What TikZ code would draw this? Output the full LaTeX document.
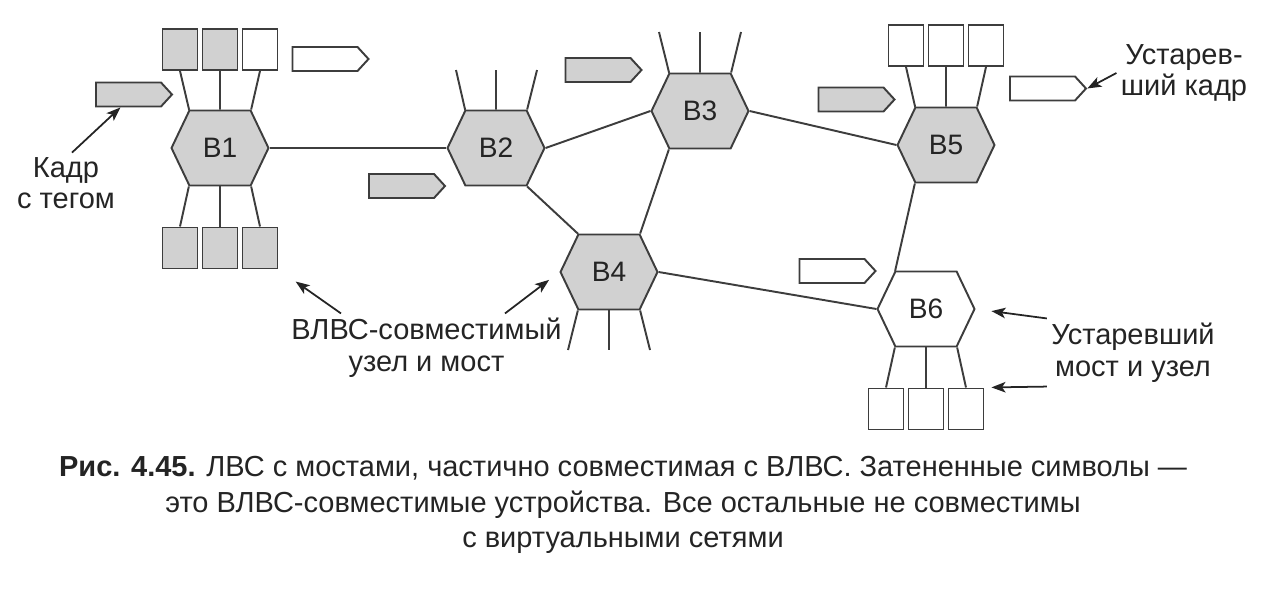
\documentclass[tikz,border=0pt]{standalone}
\usepackage{fontspec}
\setmainfont{Liberation Sans}
\usepackage{tikz}
\usetikzlibrary{arrows,arrows.meta}
\usetikzlibrary{shapes.symbols}
\definecolor{shade}{gray}{0.82}
\definecolor{ink}{gray}{0.24}
\definecolor{type}{gray}{0.14}
\newcommand{\lblfont}{\fontsize{16.5}{18}\selectfont}

\begin{document}
\begin{tikzpicture}[line width=1.1pt,draw=ink,text=type,
  hexvlan/.style={signal,signal to=east and west,signal pointer angle=129,draw=ink,fill=shade,
    minimum width=1.94cm,minimum height=1.5cm,inner sep=0pt,font=\fontsize{16}{18}\selectfont},
  hexold/.style={hexvlan,fill=white},
  stnvlan/.style={rectangle,draw=ink,fill=shade,minimum width=0.7cm,minimum height=0.82cm,inner sep=0pt},
  stnold/.style={stnvlan,fill=white},
  framevlan/.style={signal,signal to=east,signal pointer angle=95,draw=ink,fill=shade,
    minimum width=1.52cm,minimum height=0.48cm,inner sep=0pt},
  frameold/.style={framevlan,fill=white},
  note/.style={align=center,font=\lblfont,inner sep=2pt},
  pointer/.style={-{Stealth[length=8pt,width=6pt,inset=2pt]},line width=1pt,draw=type}]
\useasboundingbox (0,0) rectangle (25.6,-11.86);
% bridges and their stations
\draw (4.40,-2.96) node[hexvlan] (B1) {B1}
  +(-0.8,1.97) node[stnvlan] (b11) {}
  +(0,1.97) node[stnvlan] (b12) {}
  +(0.8,1.97) node[stnold] (b13) {}
  +(-0.8,-2.0) node[stnvlan] (b14) {}
  +(0,-2.0) node[stnvlan] (b15) {}
  +(0.8,-2.0) node[stnvlan] (b16) {};
\draw (9.92,-2.96) node[hexvlan] (B2) {B2}
  +(-0.8,1.56) coordinate (B2u1)
  +(0,1.56) coordinate (B2u2)
  +(0.82,1.56) coordinate (B2u3);
\draw (14.00,-2.22) node[hexvlan] (B3) {B3}
  +(-0.82,1.58) coordinate (B3u1)
  +(0,1.58) coordinate (B3u2)
  +(0.82,1.58) coordinate (B3u3);
\draw (12.18,-5.44) node[hexvlan] (B4) {B4}
  +(-0.82,-1.56) coordinate (B4d1)
  +(0,-1.56) coordinate (B4d2)
  +(0.82,-1.56) coordinate (B4d3);
\draw (18.92,-2.90) node[hexvlan] (B5) {B5}
  +(-0.8,1.99) node[stnold] (b51) {}
  +(0,1.99) node[stnold] (b52) {}
  +(0.8,1.99) node[stnold] (b53) {};
\draw (18.52,-6.18) node[hexold] (B6) {B6}
  +(-0.8,-2.0) node[stnold] (b61) {}
  +(0,-2.0) node[stnold] (b62) {}
  +(0.8,-2.0) node[stnold] (b63) {};

\draw (B1.129)--(b11.south); \draw (B1.90)--(b12.south); \draw (B1.51)--(b13.south);
\draw (B1.-129)--(b14.north); \draw (B1.-90)--(b15.north); \draw (B1.-51)--(b16.north);
\draw (B2.129)--(B2u1); \draw (B2.90)--(B2u2); \draw (B2.51)--(B2u3);
\draw (B3.129)--(B3u1); \draw (B3.90)--(B3u2); \draw (B3.51)--(B3u3);
\draw (B4.-129)--(B4d1); \draw (B4.-90)--(B4d2); \draw (B4.-51)--(B4d3);
\draw (B5.129)--(b51.south); \draw (B5.90)--(b52.south); \draw (B5.51)--(b53.south);
\draw (B6.-129)--(b61.north); \draw (B6.-90)--(b62.north); \draw (B6.-51)--(b63.north);

% links between bridges
\draw (B1.east)--(B2.west);
\draw (B2.east)--(B3.west);
\draw (B2.-51)--(B4.129);
\draw (B3.-129)--(B4.51);
\draw (B3.east)--(B5.west);
\draw (B4.east)--(B6.west);
\draw (B5.-129)--(B6.129);

% frames
\node[framevlan] (F1) at (2.57,-1.89) {};
\node[frameold] (F2) at (6.50,-1.18) {};
\node[framevlan] (F3) at (8.03,-3.72) {};
\node[framevlan] (F4) at (11.96,-1.40) {};
\node[framevlan] (F5) at (17.02,-1.99) {};
\node[frameold] (F6) at (16.64,-5.42) {};
\node[frameold] (F7) at (20.85,-1.77) {};

% labels
\node[note] (kadr) at (1.32,-3.66) {Кадр\\с тегом};
\node[note] (vlvs) at (8.53,-6.95) {ВЛВС-совместимый\\узел и мост};
\node[note] (ustkadr) at (23.68,-1.46) {Устарев-\\ший кадр};
\node[note] (ustmost) at (22.66,-7.05) {Устаревший\\мост и узел};
\draw[pointer] ([xshift=0.12cm]kadr.north)--(F1.238);
\draw[pointer,shorten >=0.42cm] ([xshift=-1.71cm]vlvs.north)--(b16.south east);
\draw[pointer,shorten >=0.26cm] ([xshift=1.57cm]vlvs.north)--(B4.west);
\draw[pointer] (ustkadr.west)--(F7.east);
\draw[pointer,shorten >=0.32cm] (ustmost.north west)--(B6.east);
\draw[pointer,shorten >=0.14cm] (ustmost.south west)--(b63.north east);

% caption
\node[align=center,font=\fontsize{16.5}{20}\selectfont] (cap) at (12.46,-10.1)
  {\textbf{Рис. 4.45.} ЛВС с мостами, частично совместимая с ВЛВС. Затененные символы —\\
   это ВЛВС-совместимые устройства. Все остальные не совместимы\\
   с виртуальными сетями};
\end{tikzpicture}
\end{document}
